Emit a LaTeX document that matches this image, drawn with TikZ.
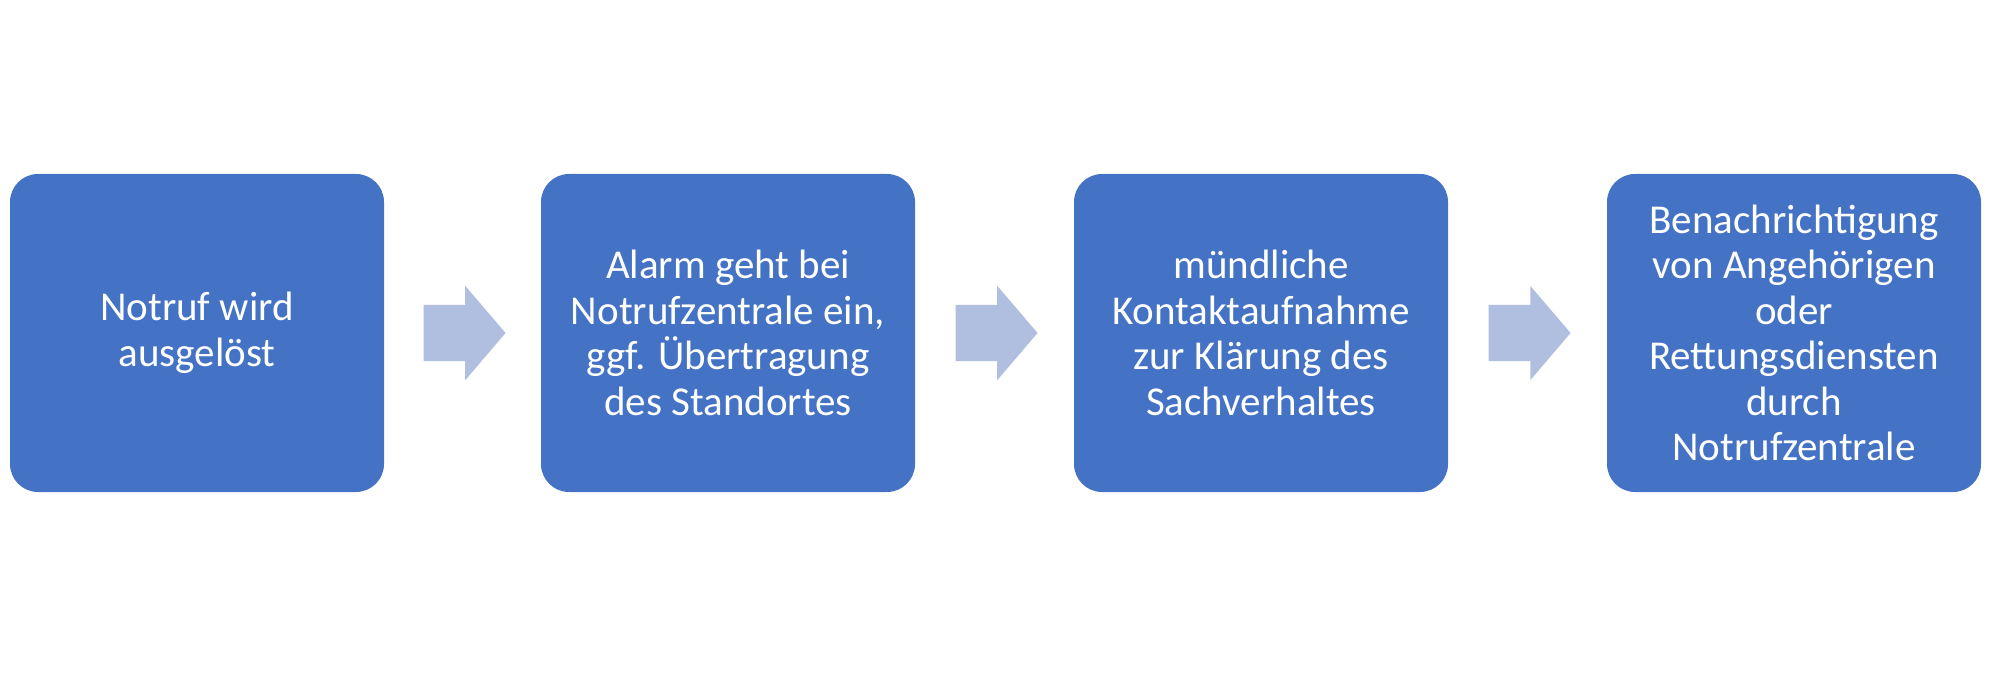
\documentclass[tikz,border=0pt]{standalone}
\usepackage{fontspec}
\setmainfont{Carlito}
\usetikzlibrary{shapes.arrows,calc}
\definecolor{boxblau}{HTML}{4472C4}
\definecolor{pfeilblau}{RGB}{176,190,224}

\begin{document}
\begin{tikzpicture}[x=1pt,y=1pt,
    etappe/.style={fill=boxblau, rounded corners=28pt, minimum width=374pt, minimum height=318pt,
                   inner sep=0pt, align=center, text=white, font=\fontsize{41}{45.5}\selectfont},
    pfeil/.style={single arrow, fill=pfeilblau, minimum height=82pt, minimum width=94pt,
                  single arrow head extend=19pt, single arrow tip angle=99, inner xsep=0pt, inner ysep=28pt,
                  xshift=-10pt}]
				  %RAHMEN
				  \useasboundingbox (0,0) rectangle (1993,673);
				  %ETAPPEN
				  \node[etappe] (E1) at (197,340) {Notruf wird\\ausgelöst};
				  \node[etappe] (E2) at (728,340) {Alarm geht bei\\Notrufzentrale ein,\\ggf. Übertragung\\des Standortes};
				  \node[etappe] (E3) at (1261,340) {mündliche\\Kontaktaufnahme\\zur Klärung des\\Sachverhaltes};
				  \node[etappe] (E4) at (1794,340) {Benachrichtigung\\von Angehörigen\\oder\\Rettungsdiensten\\durch\\Notrufzentrale};
				  %PFEILE
				  \node[pfeil] (P1) at ($(E1.east)!0.5!(E2.west)$) {};
				  \node[pfeil] (P2) at ($(E2.east)!0.5!(E3.west)$) {};
				  \node[pfeil] (P3) at ($(E3.east)!0.5!(E4.west)$) {};
\end{tikzpicture}
\end{document}
